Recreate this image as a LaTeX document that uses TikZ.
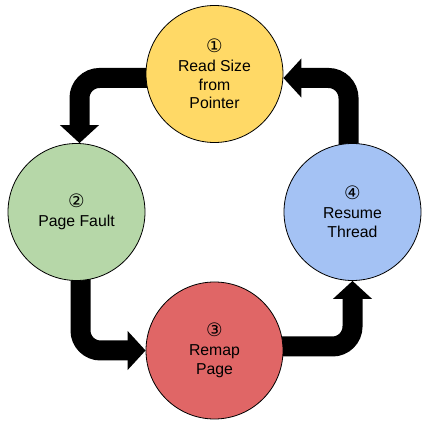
\documentclass[tikz,border=0pt]{standalone}
\usepackage{fontspec}
\setmainfont{Liberation Sans}
\newfontfamily\circfont{DejaVu Sans}
\usepackage{tikz}
\usetikzlibrary{arrows.meta,backgrounds}
\definecolor{readc}{HTML}{FFD966}
\definecolor{faultc}{HTML}{B6D7A8}
\definecolor{remapc}{HTML}{E06666}
\definecolor{resumec}{HTML}{A4C2F4}
\tikzset{
  stage/.style = {circle, draw=black, line width=0.8pt, minimum size=137pt,
                  inner sep=0pt, align=center,
                  font=\fontsize{15.8}{18.8}\selectfont},
  flow/.style  = {-{Triangle[length=18pt,width=38pt]}, line width=20pt,
                  rounded corners=20pt, draw=black},
}
\newcommand{\stepno}[1]{{\circfont\fontsize{18.5}{18.8}\selectfont #1}}

\begin{document}
\begin{tikzpicture}[x=1pt, y=1pt]
\useasboundingbox (0,0) rectangle (426,428);

% ---- the four stages ----
\node[stage, fill=readc]   (read)   at (214.5,354) {\stepno{①}\\Read Size\\from\\Pointer};
\node[stage, fill=faultc]  (fault)  at (76.5,216)  {\stepno{②}\\Page Fault};
\node[stage, fill=remapc]  (remap)  at (214.5,77.5) {\stepno{③}\\Remap\\Page};
\node[stage, fill=resumec] (resume) at (352.5,216) {\stepno{④}\\Resume\\Thread};

% ---- the loop, behind the circles ----
\begin{scope}[on background layer]
  \draw[flow] ([yshift=-4pt]read.center) -| ([xshift=3pt]fault.north);
  \draw[flow] ([xshift=4pt]fault.center) |- (remap.west);
  \draw[flow] ([yshift=4pt]remap.center) -| (resume.south);
  \draw[flow] ([xshift=-4pt]resume.center) |- ([yshift=-4pt]read.east);
\end{scope}

\end{tikzpicture}
\end{document}
